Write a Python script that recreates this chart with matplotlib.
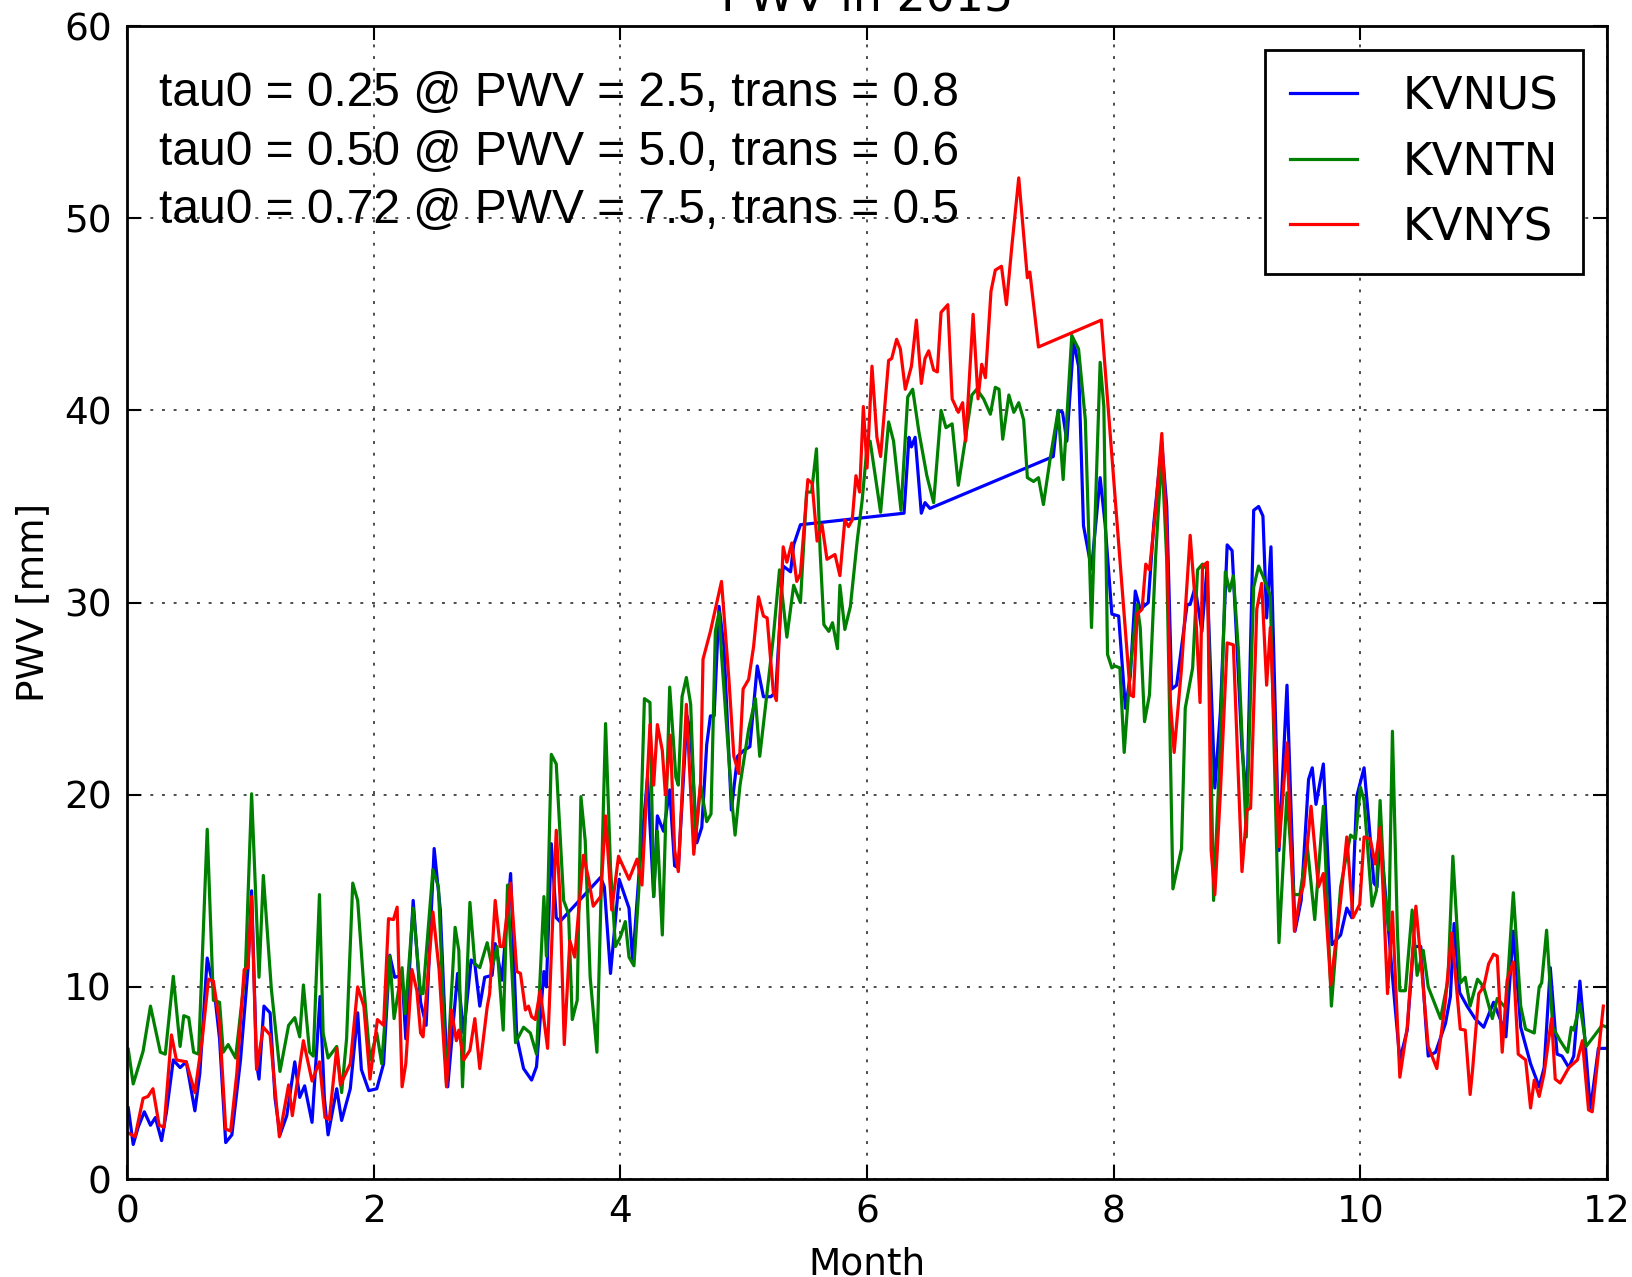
import numpy as np
import matplotlib
matplotlib.use("Agg")
import matplotlib.pyplot as plt

# KVNUS (blue)
kvnus_month = [
    0.01, 0.05, 0.09, 0.14, 0.19, 0.23, 0.28, 0.32, 0.375, 0.43,
    0.48, 0.55, 0.59, 0.65, 0.71, 0.75, 0.80, 0.85, 0.92, 0.98,
    1.01, 1.05, 1.07, 1.11, 1.16, 1.20, 1.24, 1.295, 1.36, 1.40,
    1.44, 1.50, 1.565, 1.60, 1.63, 1.70, 1.74, 1.81, 1.87, 1.90,
    1.96, 2.025, 2.08, 2.13, 2.17, 2.23, 2.26, 2.32, 2.38, 2.425,
    2.49, 2.54, 2.60, 2.68, 2.73, 2.79, 2.82, 2.86, 2.90, 2.96,
    2.985, 3.04, 3.11, 3.16, 3.215, 3.28, 3.32, 3.38, 3.40, 3.44,
    3.48, 3.51, 3.84, 3.87, 3.92, 3.99, 4.07, 4.10, 4.15, 4.22,
    4.27, 4.30, 4.35, 4.40, 4.44, 4.47, 4.54, 4.57, 4.62, 4.66,
    4.70, 4.73, 4.76, 4.80, 4.84, 4.90, 4.95, 5.00, 5.05, 5.11,
    5.16, 5.22, 5.26, 5.32, 5.38, 5.405, 5.46, 6.30, 6.34, 6.36,
    6.39, 6.44, 6.47, 6.51, 7.51, 7.55, 7.585, 7.62, 7.675, 7.715,
    7.755, 7.82, 7.89, 7.93, 7.985, 8.04, 8.095, 8.135, 8.175, 8.215,
    8.28, 8.325, 8.39, 8.43, 8.47, 8.51, 8.595, 8.62, 8.66, 8.715,
    8.755, 8.82, 8.865, 8.92, 8.96, 8.995, 9.04, 9.08, 9.135, 9.175,
    9.21, 9.24, 9.275, 9.34, 9.405, 9.47, 9.52, 9.58, 9.61, 9.64,
    9.70, 9.77, 9.84, 9.89, 9.93, 9.97, 10.03, 10.07, 10.11, 10.135,
    10.16, 10.22, 10.27, 10.32, 10.38, 10.43, 10.49, 10.53, 10.55, 10.61,
    10.69, 10.73, 10.76, 10.805, 10.865, 10.93, 11.00, 11.08, 11.135, 11.18,
    11.24, 11.30, 11.38, 11.45, 11.49, 11.54, 11.595, 11.635, 11.69, 11.73,
    11.78, 11.81, 11.865, 11.93, 12.00,
]
kvnus_pwv = [
    3.7, 1.8, 2.7, 3.5, 2.8, 3.2, 2.0, 3.5, 6.2, 5.8,
    6.1, 3.55, 5.5, 11.5, 9.65, 7.3, 1.9, 2.3, 6.2, 10.9,
    15.0, 6.0, 5.2, 9.0, 8.65, 4.2, 2.3, 3.3, 6.1, 4.25,
    4.85, 2.95, 9.5, 4.2, 2.3, 4.7, 3.05, 4.7, 8.65, 5.7,
    4.6, 4.7, 6.0, 11.65, 10.5, 10.6, 7.3, 14.5, 9.2, 8.0,
    17.2, 14.0, 4.8, 10.7, 7.6, 11.4, 11.2, 9.0, 10.5, 10.6,
    12.25, 10.35, 15.9, 7.4, 5.75, 5.15, 5.85, 10.8, 10.0, 17.45,
    13.6, 13.4, 15.7, 15.2, 10.7, 15.6, 14.1, 11.3, 15.8, 20.9,
    14.7, 18.9, 18.1, 20.25, 16.3, 16.2, 24.1, 23.2, 17.5, 18.3,
    22.6, 24.1, 24.1, 29.8, 27.7, 19.2, 22.0, 22.3, 22.5, 26.7,
    25.1, 25.1, 25.35, 31.9, 31.6, 33.0, 34.05, 34.65, 38.6, 38.1,
    38.6, 34.65, 35.2, 34.9, 37.6, 40.0, 39.9, 38.4, 43.6, 42.3,
    34.0, 31.75, 36.5, 34.1, 29.4, 29.3, 24.5, 26.2, 30.6, 29.65,
    30.0, 34.1, 38.3, 35.0, 25.5, 25.7, 29.9, 29.9, 30.8, 28.5,
    31.7, 20.35, 24.3, 33.0, 32.7, 28.3, 22.4, 19.65, 34.8, 35.0,
    34.5, 29.2, 32.9, 17.1, 25.7, 12.9, 14.5, 20.8, 21.4, 19.5,
    21.6, 12.2, 12.7, 14.1, 13.6, 19.9, 21.4, 18.5, 15.4, 15.2,
    18.1, 13.6, 9.8, 6.2, 7.75, 12.1, 12.1, 8.1, 6.4, 6.6,
    8.1, 9.5, 13.3, 9.7, 9.0, 8.35, 7.9, 9.2, 8.3, 7.4,
    12.9, 7.9, 6.0, 4.8, 5.8, 11.0, 6.5, 6.4, 5.8, 6.4,
    10.3, 8.1, 3.6, 6.8, 6.8,
]

# KVNTN (green)
kvntn_month = [
    0.01, 0.05, 0.13, 0.19, 0.27, 0.31, 0.375, 0.43, 0.46, 0.50,
    0.54, 0.58, 0.65, 0.70, 0.75, 0.78, 0.82, 0.88, 0.96, 1.01,
    1.07, 1.105, 1.17, 1.24, 1.31, 1.36, 1.40, 1.43, 1.48, 1.51,
    1.56, 1.59, 1.63, 1.70, 1.74, 1.78, 1.83, 1.87, 1.92, 1.97,
    2.025, 2.065, 2.13, 2.165, 2.23, 2.255, 2.32, 2.38, 2.40, 2.48,
    2.525, 2.59, 2.66, 2.69, 2.72, 2.78, 2.82, 2.86, 2.92, 2.96,
    3.00, 3.05, 3.085, 3.15, 3.215, 3.27, 3.32, 3.38, 3.40, 3.44,
    3.48, 3.54, 3.58, 3.61, 3.65, 3.68, 3.715, 3.755, 3.81, 3.88,
    3.92, 3.96, 4.00, 4.04, 4.07, 4.11, 4.15, 4.195, 4.24, 4.27,
    4.30, 4.34, 4.40, 4.45, 4.47, 4.50, 4.535, 4.57, 4.61, 4.65,
    4.70, 4.735, 4.77, 4.80, 4.82, 4.905, 4.93, 4.97, 5.04, 5.095,
    5.13, 5.19, 5.24, 5.29, 5.35, 5.405, 5.46, 5.51, 5.55, 5.59,
    5.62, 5.65, 5.69, 5.72, 5.76, 5.78, 5.82, 5.865, 5.92, 5.96,
    6.00, 6.025, 6.11, 6.175, 6.215, 6.275, 6.33, 6.37, 6.42, 6.485,
    6.54, 6.60, 6.64, 6.69, 6.74, 6.795, 6.85, 6.89, 6.945, 7.00,
    7.04, 7.07, 7.10, 7.15, 7.19, 7.23, 7.27, 7.30, 7.35, 7.39,
    7.43, 7.485, 7.55, 7.59, 7.66, 7.715, 7.77, 7.82, 7.89, 7.92,
    7.95, 7.985, 8.01, 8.05, 8.085, 8.135, 8.19, 8.215, 8.25, 8.29,
    8.34, 8.39, 8.43, 8.48, 8.55, 8.58, 8.64, 8.68, 8.72, 8.76,
    8.81, 8.865, 8.905, 8.94, 8.97, 9.01, 9.075, 9.135, 9.175, 9.215,
    9.27, 9.34, 9.405, 9.46, 9.51, 9.57, 9.63, 9.70, 9.765, 9.84,
    9.88, 9.92, 9.96, 10.00, 10.03, 10.095, 10.13, 10.16, 10.195, 10.23,
    10.26, 10.30, 10.32, 10.365, 10.42, 10.46, 10.51, 10.55, 10.65, 10.71,
    10.75, 10.81, 10.85, 10.89, 10.95, 11.00, 11.07, 11.11, 11.18, 11.24,
    11.30, 11.34, 11.41, 11.45, 11.47, 11.51, 11.56, 11.62, 11.68, 11.71,
    11.73, 11.78, 11.83, 11.89, 11.96, 12.00,
]
kvntn_pwv = [
    6.75, 4.95, 6.65, 9.0, 6.6, 6.5, 10.55, 6.9, 8.5, 8.4,
    6.6, 6.5, 18.2, 9.3, 9.2, 6.6, 7.0, 6.3, 10.9, 20.05,
    10.5, 15.8, 9.9, 5.6, 8.0, 8.4, 7.4, 10.1, 6.6, 6.4,
    14.8, 7.6, 6.3, 6.9, 4.5, 7.3, 15.4, 14.5, 10.0, 6.2,
    7.6, 6.0, 11.6, 8.35, 11.0, 8.6, 14.1, 9.65, 9.65, 16.1,
    15.2, 5.0, 13.1, 11.9, 4.8, 14.4, 11.2, 11.0, 12.3, 11.0,
    12.1, 7.75, 15.3, 7.1, 7.9, 7.6, 6.5, 14.7, 11.6, 22.1,
    21.6, 14.5, 13.8, 8.3, 9.3, 19.9, 17.6, 10.5, 6.6, 23.7,
    16.2, 12.1, 12.6, 13.4, 11.55, 11.1, 15.1, 25.0, 24.8, 14.7,
    18.1, 12.7, 25.6, 20.9, 20.5, 25.1, 26.1, 24.7, 17.7, 20.5,
    18.6, 19.0, 28.5, 29.5, 27.3, 19.6, 17.9, 20.5, 23.4, 25.0,
    22.0, 25.35, 28.2, 31.7, 28.2, 30.9, 30.0, 35.75, 35.75, 38.0,
    32.6, 28.85, 28.5, 28.95, 27.6, 30.9, 28.6, 29.8, 33.2, 35.3,
    38.1, 38.4, 34.7, 39.4, 38.4, 34.8, 40.7, 41.1, 38.9, 36.6,
    35.2, 40.0, 39.1, 39.3, 36.1, 38.4, 40.8, 41.1, 40.6, 39.8,
    41.2, 41.1, 38.5, 40.8, 39.9, 40.4, 39.5, 36.5, 36.3, 36.5,
    35.1, 37.5, 40.0, 36.4, 43.9, 43.2, 39.5, 28.7, 42.5, 40.2,
    27.3, 26.6, 26.7, 26.6, 22.2, 26.6, 29.9, 28.7, 23.8, 25.2,
    32.4, 37.8, 32.2, 15.1, 17.2, 24.5, 26.6, 31.7, 32.0, 31.7,
    14.5, 22.7, 31.6, 30.6, 31.4, 27.6, 17.8, 30.8, 31.9, 31.3,
    30.35, 12.3, 20.1, 14.8, 14.8, 17.3, 13.5, 19.4, 9.0, 15.2,
    16.6, 17.9, 17.7, 20.4, 19.7, 14.2, 15.0, 19.7, 15.0, 12.95,
    23.3, 12.95, 9.8, 9.8, 14.0, 10.6, 11.9, 10.0, 8.35, 10.35,
    16.8, 10.2, 10.5, 9.0, 10.4, 10.0, 8.35, 9.4, 8.9, 14.9,
    9.0, 7.8, 7.6, 10.0, 10.2, 12.95, 7.9, 7.2, 6.6, 7.9,
    7.75, 9.1, 6.9, 7.4, 8.0, 7.9,
]

# KVNYS (red)
kvnys_month = [
    0.01, 0.065, 0.13, 0.17, 0.21, 0.26, 0.30, 0.36, 0.40, 0.48,
    0.55, 0.61, 0.66, 0.70, 0.75, 0.80, 0.84, 0.89, 0.95, 0.98,
    1.01, 1.05, 1.105, 1.16, 1.235, 1.31, 1.34, 1.43, 1.50, 1.56,
    1.605, 1.64, 1.70, 1.73, 1.81, 1.87, 1.92, 1.97, 2.03, 2.08,
    2.12, 2.16, 2.19, 2.23, 2.26, 2.31, 2.35, 2.38, 2.40, 2.48,
    2.53, 2.59, 2.63, 2.67, 2.69, 2.73, 2.78, 2.82, 2.86, 2.92,
    2.94, 2.985, 3.025, 3.05, 3.11, 3.16, 3.19, 3.23, 3.255, 3.28,
    3.31, 3.35, 3.41, 3.48, 3.51, 3.545, 3.59, 3.63, 3.70, 3.74,
    3.78, 3.84, 3.88, 3.93, 3.985, 4.07, 4.135, 4.175, 4.24, 4.27,
    4.30, 4.34, 4.365, 4.405, 4.44, 4.47, 4.535, 4.595, 4.65, 4.67,
    4.73, 4.82, 4.88, 4.92, 4.96, 4.995, 5.04, 5.08, 5.12, 5.16,
    5.19, 5.24, 5.265, 5.32, 5.35, 5.39, 5.43, 5.46, 5.52, 5.555,
    5.595, 5.635, 5.675, 5.74, 5.78, 5.82, 5.85, 5.88, 5.91, 5.94,
    5.97, 6.00, 6.04, 6.08, 6.11, 6.175, 6.20, 6.24, 6.27, 6.31,
    6.36, 6.40, 6.44, 6.47, 6.50, 6.54, 6.57, 6.60, 6.655, 6.69,
    6.74, 6.775, 6.80, 6.86, 6.90, 6.93, 6.96, 7.005, 7.04, 7.09,
    7.13, 7.175, 7.23, 7.30, 7.32, 7.39, 7.90, 8.135, 8.16, 8.19,
    8.23, 8.26, 8.29, 8.34, 8.39, 8.43, 8.46, 8.49, 8.55, 8.62,
    8.66, 8.70, 8.72, 8.76, 8.79, 8.82, 8.865, 8.92, 8.97, 9.04,
    9.08, 9.11, 9.16, 9.20, 9.24, 9.27, 9.34, 9.405, 9.465, 9.51,
    9.54, 9.60, 9.66, 9.70, 9.76, 9.84, 9.89, 9.94, 9.995, 10.03,
    10.08, 10.12, 10.16, 10.19, 10.22, 10.26, 10.32, 10.38, 10.45, 10.50,
    10.55, 10.62, 10.69, 10.74, 10.81, 10.85, 10.89, 10.91, 10.96, 11.00,
    11.04, 11.08, 11.11, 11.15, 11.19, 11.24, 11.28, 11.34, 11.38, 11.41,
    11.45, 11.49, 11.55, 11.58, 11.62, 11.69, 11.76, 11.80, 11.85, 11.88,
    11.97,
]
kvnys_pwv = [
    2.4, 2.2, 4.2, 4.3, 4.7, 2.8, 2.7, 7.5, 6.2, 6.1,
    4.5, 7.3, 10.4, 10.3, 8.1, 2.6, 2.5, 5.5, 10.9, 11.0,
    14.7, 5.7, 7.9, 7.5, 2.2, 4.9, 3.3, 7.2, 5.1, 6.1,
    3.2, 3.1, 6.8, 4.9, 6.0, 10.0, 9.0, 5.2, 8.3, 8.0,
    13.55, 13.5, 14.15, 4.8, 6.0, 10.9, 9.8, 7.6, 7.4, 13.9,
    10.9, 4.8, 8.8, 7.2, 7.75, 6.2, 6.7, 8.35, 5.75, 8.95,
    9.65, 14.5, 12.1, 12.1, 15.4, 10.8, 10.7, 8.8, 9.0, 8.45,
    8.3, 9.8, 6.8, 18.15, 14.7, 7.0, 12.4, 11.55, 16.85, 15.7,
    14.2, 14.7, 18.9, 14.0, 16.8, 15.6, 16.65, 15.3, 23.65, 20.5,
    23.65, 22.3, 20.0, 23.1, 17.1, 16.0, 24.7, 16.9, 20.6, 27.05,
    28.5, 31.1, 26.0, 22.0, 21.1, 25.5, 26.0, 27.7, 30.3, 29.3,
    29.2, 25.35, 24.9, 32.9, 32.1, 33.1, 31.1, 31.5, 36.4, 36.2,
    33.2, 34.05, 32.25, 32.5, 31.4, 34.3, 33.95, 34.3, 36.6, 35.75,
    40.2, 37.0, 42.3, 38.6, 37.6, 42.6, 42.7, 43.7, 43.2, 41.1,
    42.3, 44.7, 41.4, 42.7, 43.1, 42.1, 42.0, 45.1, 45.5, 40.6,
    39.9, 40.4, 38.4, 45.0, 40.6, 42.4, 41.7, 46.2, 47.3, 47.5,
    45.5, 48.6, 52.1, 46.9, 47.2, 43.3, 44.7, 25.2, 25.1, 29.4,
    29.65, 32.0, 31.7, 34.8, 38.8, 33.6, 24.8, 22.2, 26.6, 33.5,
    30.1, 24.8, 31.9, 32.1, 17.1, 14.8, 20.1, 27.9, 27.8, 16.0,
    19.2, 19.3, 29.65, 31.0, 25.7, 28.7, 17.3, 22.7, 12.9, 14.65,
    15.3, 19.4, 15.2, 15.9, 10.1, 14.5, 17.8, 13.6, 14.3, 17.8,
    17.7, 16.4, 18.3, 14.2, 9.65, 13.9, 5.3, 7.9, 14.2, 10.7,
    6.9, 5.75, 9.3, 12.8, 7.8, 7.75, 4.4, 5.7, 9.65, 10.0,
    11.2, 11.7, 11.6, 6.6, 10.35, 11.3, 6.5, 6.2, 3.7, 5.15,
    4.3, 5.5, 8.35, 5.2, 5.0, 5.8, 6.2, 7.2, 3.6, 3.5,
    9.0,
]

notes = [
    "tau0 = 0.25 @ PWV = 2.5, trans = 0.8",
    "tau0 = 0.50 @ PWV = 5.0, trans = 0.6",
    "tau0 = 0.72 @ PWV = 7.5, trans = 0.5",
]

xticks = [0, 2, 4, 6, 8, 10, 12]
yticks = [0, 10, 20, 30, 40, 50, 60]

fig = plt.figure(figsize=(16.33, 12.77), dpi=100)
ax = fig.add_axes([0.0778, 0.0767, 0.9063, 0.9029])

ax.plot(kvnus_month, kvnus_pwv, color=(0, 0, 1), lw=2.3, label="KVNUS")
ax.plot(kvntn_month, kvntn_pwv, color=(0, 0.5, 0), lw=2.3, label="KVNTN")
ax.plot(kvnys_month, kvnys_pwv, color=(1, 0, 0), lw=2.3, label="KVNYS")

ax.set_xlim(0, 12)
ax.set_ylim(0, 60)
ax.set_xticks(xticks)
ax.set_yticks(yticks)
ax.tick_params(direction="in", length=10, width=1.5, labelsize=27,
               top=True, right=True, pad=11)
for s in ax.spines.values():
    s.set_linewidth(2)

ax.grid(True, color="0.3", lw=1.4, ls=(0, (1.5, 4.5)))

ax.set_xlabel("Month", fontsize=27, labelpad=12)
ax.set_ylabel("PWV [mm]", fontsize=27, labelpad=9)
ax.set_title("PWV in 2015", fontsize=33, pad=11)

# annotation lines
ys = [0.9304, 0.8798, 0.829]
for txt, yy in zip(notes, ys):
    ax.text(0.0216, yy, txt, transform=ax.transAxes, fontsize=34.5,
            family="Liberation Sans", va="baseline", ha="left")

leg = ax.legend(loc="upper right", bbox_to_anchor=(0.9838, 0.979),
                borderaxespad=0, fontsize=32.5, fancybox=False,
                edgecolor="k", framealpha=1, handlelength=1.5,
                handletextpad=1.0, labelspacing=0.5, borderpad=0.55)
leg.get_frame().set_linewidth(2)

fig.savefig("out.png", dpi=100)
